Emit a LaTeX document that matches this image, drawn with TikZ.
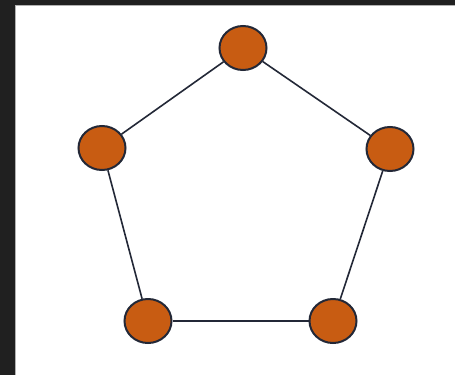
\documentclass[tikz,border=0pt]{standalone}
\usetikzlibrary{shapes.geometric}
\definecolor{vfill}{RGB}{200,92,18}
\definecolor{vline}{RGB}{35,40,55}
\definecolor{frame}{RGB}{32,32,32}
\begin{document}
\begin{tikzpicture}[x=1pt,y=-1pt,
  vert/.style={ellipse,draw=vline,line width=2pt,fill=vfill,minimum width=47pt,minimum height=44pt,inner sep=0pt},
  edge/.style={draw=vline,line width=1.6pt}]
\useasboundingbox (0,0) rectangle (455,375);
\fill[frame] (0,0) rectangle (455,375);
\fill[white] (16,6) rectangle (455,375);
\draw[gray!60,line width=0.8pt] (15.5,375) -- (15.5,5.5) -- (455,5.5);
\node[vert] (t) at (243,48) {};
\node[vert] (l) at (102,148) {};
\node[vert] (r) at (390,149) {};
\node[vert] (bl) at (148,321) {};
\node[vert] (br) at (333,321) {};
\draw[edge] (t) -- (r);
\draw[edge] (r) -- (br);
\draw[edge] (br) -- (bl);
\draw[edge] (bl) -- (l);
\draw[edge] (l) -- (t);
\end{tikzpicture}
\end{document}
